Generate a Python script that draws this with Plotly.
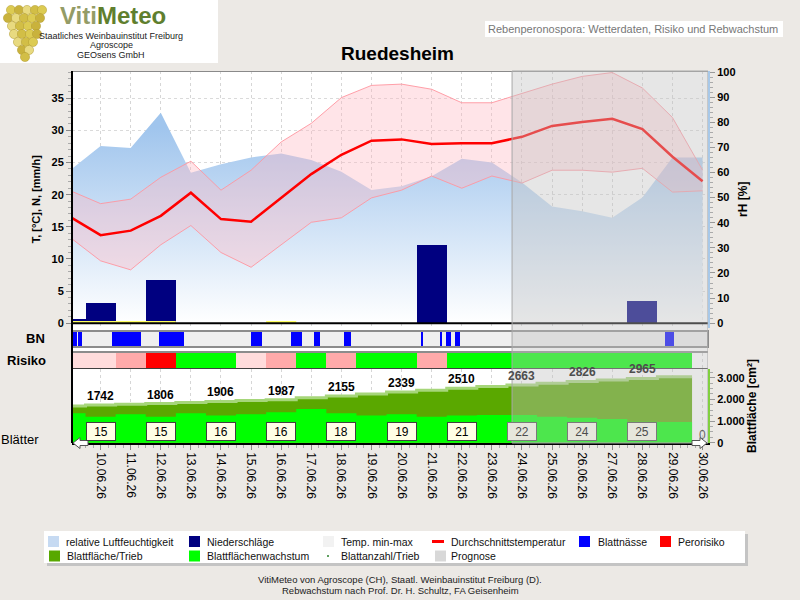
import plotly.graph_objects as go

W, H = 800, 600
def PX(x): return x / W
def PY(y): return 1 - y / H

FONT = "Liberation Sans"

# ---------------- data ----------------
days = [9, 10, 11, 12, 13, 14, 15, 16, 17, 18, 19, 20, 21, 22, 23, 24, 25, 26, 27, 28, 29, 30]
tick_days = [10, 11, 12, 13, 14, 15, 16, 17, 18, 19, 20, 21, 22, 23, 24, 25, 26, 27, 28, 29, 30]
tick_labels = ["10.06.26", "11.06.26", "12.06.26", "13.06.26", "14.06.26", "15.06.26", "16.06.26",
               "17.06.26", "18.06.26", "19.06.26", "20.06.26", "21.06.26", "22.06.26", "23.06.26",
               "24.06.26", "25.06.26", "26.06.26", "27.06.26", "28.06.26", "29.06.26", "30.06.26"]
rel_humidity = [61, 70.5, 69.7, 83.8, 59.9, 63.3, 66, 67.6, 65, 60.3, 53, 54.5, 58.5, 65.5, 64, 56,
                46.5, 44.6, 42, 50, 66, 66]
temp_mean = [16.5, 13.7, 14.4, 16.7, 20.3, 16.2, 15.8, 19.5, 23.2, 26.2, 28.4, 28.6, 27.9, 28.0, 28.0,
             29.0, 30.7, 31.3, 31.8, 30.2, 25.9, 22.1]
temp_max = [20.6, 18.6, 19.3, 22.7, 25.2, 20.7, 23.8, 28.2, 31.1, 35.1, 37.0, 37.2, 36.4, 34.3, 34.3,
            35.8, 37.2, 38.4, 39.0, 36.6, 32.0, 23.8]
temp_min = [13.3, 9.7, 8.3, 12.2, 15.2, 11.0, 8.7, 12.2, 15.7, 16.4, 19.5, 20.7, 22.9, 21.0, 22.9,
            21.8, 23.8, 23.8, 23.5, 24.1, 20.4, 20.6]
precipitation = [0.6, 3.1, 0, 6.7, 0, 0, 0, 0, 0, 0, 0, 0, 12.2, 0, 0, 0, 0, 0, 0, 3.4, 0, 0]

wet_mark_start = [8.5, 15.5]
wet_mark_end = [12.5, 16.5]

bn_start = [9.08, 9.25, 10.37, 11.94, 15.00, 16.33, 17.09, 18.07, 20.65, 21.28, 21.48, 21.79, 28.76]
bn_end = [9.21, 9.39, 11.34, 12.76, 15.37, 16.69, 17.29, 18.31, 20.69, 21.33, 21.64, 21.94, 29.04]

stage_days = [9, 10, 11, 12, 13, 14, 15, 16, 17, 18, 19, 20, 21, 22, 23, 24, 25, 26, 27, 28, 29]
risk_level = ["gering", "gering", "mittel", "hoch", "kein", "kein", "gering", "mittel", "kein",
              "mittel", "kein", "kein", "mittel", "kein", "kein", "kein", "kein", "kein", "kein",
              "kein", "kein"]
risk_colors = {"kein": "#00FF00", "gering": "#FFDCDC", "mittel": "#FFAAAA", "hoch": "#FF0000"}

leaf_area = [1690, 1742, 1770, 1806, 1855, 1906, 1945, 1987, 2075, 2155, 2250, 2339, 2425, 2510,
             2590, 2663, 2745, 2826, 2895, 2965, 3040]
leaf_growth = [1357, 1200, 1310, 1200, 1357, 1250, 1310, 1400, 1555, 1357, 1250, 1310, 1200, 1250,
               1280, 1280, 1200, 1150, 1094, 969, 955]
count_days = [10, 12, 14, 16, 18, 20, 22, 24, 26, 28]
leaf_count = [15, 15, 16, 16, 18, 19, 21, 22, 24, 25]
end_count_day = 30
end_count = 0

PROGNOSIS_START = 23.67
DATA_END = 29.65
X_RANGE = [9.05, 30.18]

# ---------------- derived ----------------
edges = [d - 0.5 for d in stage_days] + [DATA_END]
seg_center = [(edges[i] + edges[i + 1]) / 2 for i in range(len(stage_days))]
seg_width = [edges[i + 1] - edges[i] for i in range(len(stage_days))]

fig = go.Figure()

# relative humidity (base axis y, right)
fig.add_trace(go.Scatter(
    x=days, y=rel_humidity, yaxis="y", mode="lines", name="relative Luftfeuchtigkeit",
    line=dict(width=0, color="rgba(0,0,0,0)"), fill="tozeroy",
    fillgradient=dict(type="vertical", start=0, stop=78,
                      colorscale=[[0, "rgb(255,255,255)"], [1, "rgb(160,197,237)"]]),
    showlegend=False, hoverinfo="skip"))

# yellow markers at zero
wx, wy = [], []
for s, e in zip(wet_mark_start, wet_mark_end):
    wx += [s, e, None]
    wy += [0.2, 0.2, None]
fig.add_trace(go.Scatter(x=wx, y=wy, yaxis="y2", mode="lines",
                         line=dict(color="#FFFF60", width=2), showlegend=False, hoverinfo="skip"))

# temperature band
fig.add_trace(go.Scatter(x=days, y=temp_max, yaxis="y2", mode="lines", name="Temp. max",
                         line=dict(color="rgba(255,150,160,0.9)", width=1), showlegend=False))
fig.add_trace(go.Scatter(x=days, y=temp_min, yaxis="y2", mode="lines", name="Temp. min-max",
                         line=dict(color="rgba(255,150,160,0.9)", width=1), fill="tonexty",
                         fillcolor="rgba(255,185,195,0.38)", showlegend=False))
fig.add_trace(go.Scatter(x=days, y=temp_mean, yaxis="y2", mode="lines", name="Durchschnittstemperatur",
                         line=dict(color="#FF0000", width=2.5), showlegend=False))
# precipitation
fig.add_trace(go.Bar(x=days, y=precipitation, yaxis="y2", width=[1] * len(days),
                     marker=dict(color="#000080", line=dict(width=0)), name="Niederschläge",
                     showlegend=False))

# leaf wetness strip background + wet periods
fig.add_trace(go.Bar(x=[(X_RANGE[0] + X_RANGE[1]) / 2], y=[1.16], base=-0.08,
                     width=[X_RANGE[1] - X_RANGE[0]], yaxis="y3",
                     marker=dict(color="#EFEFEF", line=dict(width=0)), showlegend=False,
                     hoverinfo="skip"))
fig.add_trace(go.Bar(x=[(s + e) / 2 for s, e in zip(bn_start, bn_end)],
                     y=[1] * len(bn_start), width=[e - s for s, e in zip(bn_start, bn_end)],
                     base=0, yaxis="y3", marker=dict(color="#0000FF", line=dict(width=0)),
                     name="Blattnässe", showlegend=False))

# risk
fig.add_trace(go.Bar(x=seg_center, y=[1] * len(seg_center), width=seg_width, base=0, yaxis="y4",
                     marker=dict(color=[risk_colors[r] for r in risk_level], line=dict(width=0)),
                     name="Perorisiko", showlegend=False))

# leaf area (step) and growth
fig.add_trace(go.Scatter(x=edges, y=leaf_area + [leaf_area[-1]], yaxis="y5", mode="lines",
                         line=dict(shape="hv", color="#A6D67A", width=3), fill="tozeroy",
                         fillcolor="#5AA800", name="Blattfläche/Trieb", showlegend=False))
fig.add_trace(go.Scatter(x=edges, y=leaf_growth + [leaf_growth[-1]], yaxis="y5", mode="lines",
                         line=dict(shape="hv", width=0, color="rgba(0,0,0,0)"), fill="tozeroy",
                         fillcolor="#00FF00", name="Blattflächenwachstum", showlegend=False))

# ---------------- shapes ----------------
shapes = []
def rect(x0, y0, x1, y1, fill, line=None, lw=0, layer="below"):
    shapes.append(dict(type="rect", xref="paper", yref="paper", x0=PX(x0), x1=PX(x1),
                       y0=PY(y1), y1=PY(y0), fillcolor=fill,
                       line=dict(color=line or fill, width=lw), layer=layer))
def hline(x0, x1, y, color, w, layer="above"):
    shapes.append(dict(type="line", xref="paper", yref="paper", x0=PX(x0), x1=PX(x1),
                       y0=PY(y), y1=PY(y), line=dict(color=color, width=w), layer=layer))
def vline(x, y0, y1, color, w, layer="above"):
    shapes.append(dict(type="line", xref="paper", yref="paper", x0=PX(x), x1=PX(x),
                       y0=PY(y0), y1=PY(y1), line=dict(color=color, width=w), layer=layer))
def poly(points, fill, line, lw=1):
    p = "M " + " L ".join(f"{PX(x)},{PY(y)}" for x, y in points) + " Z"
    shapes.append(dict(type="path", xref="paper", yref="paper", path=p, fillcolor=fill,
                       line=dict(color=line, width=lw), layer="above"))

# plot background
rect(72, 71, 708, 443, "white")
# logo box
rect(0, 0, 218, 63, "white")
# grapes
grapes = [(10, [11, 19, 27, 35, 42]), (18, [8, 16, 24, 32, 40]), (26, [12, 20, 28, 36]),
          (34, [14, 22, 30, 37]), (42, [18, 26, 33]), (50, [22, 29]), (57, [25])]
gcols = ["#DCCB52", "#C9B23C", "#E8DA80", "#D2BE46"]
k = 0
for gy, xs in grapes:
    for gx in xs:
        shapes.append(dict(type="circle", xref="paper", yref="paper", x0=PX(gx - 4.6), x1=PX(gx + 4.6),
                           y0=PY(gy + 4.6), y1=PY(gy - 4.6), fillcolor=gcols[k % 4],
                           line=dict(color="#B09A30", width=0.5), layer="above"))
        k += 1
# top right box
rect(485, 21, 783, 37, "white")
# BN strip border
shapes.append(dict(type="rect", xref="x domain", yref="y3 domain", x0=0, x1=1, y0=0, y1=1,
                   fillcolor="rgba(0,0,0,0)", line=dict(color="#8C8C8C", width=2), layer="above"))
# borders
hline(72, 708, 71.5, "#8A8A8A", 1)
hline(72, 708, 352, "#8C8C8C", 2)
hline(72, 708, 368.5, "#404040", 1)
shapes.append(dict(type="line", xref="x domain", yref="y2", x0=0, x1=1, y0=0, y1=0,
                   line=dict(color="black", width=2), layer="above"))
# prognosis overlay
shapes.append(dict(type="rect", xref="x", yref="paper", x0=PROGNOSIS_START, x1=X_RANGE[1],
                   y0=PY(443), y1=PY(71), fillcolor="rgba(192,192,192,0.4)",
                   line=dict(color="#A8A8A8", width=1), layer="above"))
vline(72, 71, 443, "black", 2)
# navigation arrows
poly([(73, 443), (80, 437.5), (80, 440.5), (88, 440.5), (88, 445.5), (80, 445.5), (80, 448.5)],
     "white", "#555555")
poly([(707, 443), (700, 437.5), (700, 440.5), (692, 440.5), (692, 445.5), (700, 445.5), (700, 448.5)],
     "white", "#555555")
# legend box
rect(47, 534, 748, 566, "#C4C4C4")
rect(44, 531, 745, 563, "white")

# ---------------- annotations ----------------
ann = []
def text(x, y, s, size=11, color="black", bold=False, xanchor="center", yanchor="middle", **kw):
    ann.append(dict(xref="paper", yref="paper", x=PX(x), y=PY(y),
                    text=f"<b>{s}</b>" if bold else s, showarrow=False,
                    font=dict(family=FONT, size=size, color=color),
                    xanchor=xanchor, yanchor=yanchor, **kw))

text(113, 0.5, '<span style="color:#949C66">Viti</span><span style="color:#5F7F2E">Meteo</span>',
     size=24, bold=True, borderpad=0, yanchor="top")
text(111, 36, "Staatliches Weinbauinstitut Freiburg", size=9, color="#222222", borderpad=0)
text(111, 45.5, "Agroscope", size=9, color="#222222", borderpad=0)
text(111, 55, "GEOsens GmbH", size=9, color="#222222", borderpad=0)
text(633, 29, "Rebenperonospora: Wetterdaten, Risiko und Rebwachstum", size=11, color="#777777")
text(397, 53, "Ruedesheim", size=19, bold=True)
text(35.5, 338, "BN", size=13, bold=True)
text(26, 360.5, "Risiko", size=13, bold=True)
text(20, 440, "Blätter", size=13)

text(400, 579, "VitiMeteo von Agroscope (CH), Staatl. Weinbauinstitut Freiburg (D).", size=9.5,
     color="#222222")
text(400, 590.5, "Rebwachstum nach Prof. Dr. H. Schultz, FA Geisenheim", size=9.5, color="#222222")

# legend entries
leg = [
    (48, 541.5, "sq", "#C6DAF2", "relative Luftfeuchtigkeit", 64),
    (189, 541.5, "sq", "#000080", "Niederschläge", 205),
    (323, 541.5, "sq", "#F2F2F2", "Temp. min-max", 339),
    (432, 541.5, "dash", "#FF0000", "Durchschnittstemperatur", 449),
    (579, 541.5, "sq", "#0000FF", "Blattnässe", 596),
    (660, 541.5, "sq", "#FF0000", "Perorisiko", 676),
    (49, 556, "sq", "#58A800", "Blattfläche/Trieb", 65),
    (189, 556, "sq", "#00FF00", "Blattflächenwachstum", 205),
    (323, 556, "dot", "#60A060", "Blattanzahl/Trieb", 339),
    (435, 556, "sq", "#D8D8D8", "Prognose", 449),
]
for ix, iy, kind, col, label, tx in leg:
    if kind == "sq":
        rect(ix, iy - 5.5, ix + 11, iy + 5.5, col, layer="above")
    elif kind == "dash":
        hline(ix, ix + 12, iy, col, 3)
    else:
        rect(ix + 4, iy - 1, ix + 6, iy + 1, col, layer="above")
    text(tx, iy, label, size=10.5, color="#111111", xanchor="left")

# leaf area labels and leaf count boxes
for d, n in zip(count_days, leaf_count):
    area = leaf_area[stage_days.index(d)]
    prog = d > PROGNOSIS_START
    ann.append(dict(xref="x", yref="y5", x=d, y=area, text=f"<b>{area}</b>", showarrow=False,
                    yanchor="bottom", yshift=0,
                    font=dict(family=FONT, size=12, color="#4D4D4D" if prog else "black")))
    ann.append(dict(xref="x", yref="y5", x=d, y=0, text=str(n), showarrow=False, yanchor="bottom",
                    yshift=2, width=26, height=15, borderpad=1, borderwidth=1,
                    bgcolor="#E6E6DC" if prog else "#FFFFE6",
                    bordercolor="#7A7A7A" if prog else "#404040",
                    font=dict(family=FONT, size=12, color="#4D4D4D" if prog else "black")))
ann.append(dict(xref="x", yref="y5", x=end_count_day, y=0, text=str(end_count), showarrow=False,
                yanchor="bottom", yshift=-1, font=dict(family=FONT, size=12, color="#666666")))

# ---------------- layout ----------------
tickfont_b = dict(family=FONT, size=11, color="black", weight="bold")
fig.update_layout(
    width=W, height=H, autosize=False,
    margin=dict(l=0, r=0, t=0, b=0),
    paper_bgcolor="#ECE9E5", plot_bgcolor="rgba(0,0,0,0)",
    font=dict(family=FONT, color="black"),
    showlegend=False, bargap=0, barmode="overlay",
    shapes=shapes, annotations=ann,
    xaxis=dict(domain=[PX(72), PX(708)], range=X_RANGE, anchor="y5",
               tickmode="array", tickvals=tick_days, ticktext=tick_labels, tickangle=90,
               ticks="outside", ticklen=5, tickcolor="#888888",
               tickfont=dict(family=FONT, size=12, color="black"),
               showline=True, linecolor="black", linewidth=1.5,
               showgrid=True, gridcolor="#D6D6D6", griddash="dot", gridwidth=1,
               minor=dict(tickmode="linear", tick0=9, dtick=0.25, ticks="outside", ticklen=3,
                          tickcolor="#AAAAAA", showgrid=False),
               zeroline=False, automargin=False, fixedrange=True),
    yaxis=dict(domain=[PY(327.5), PY(71)], range=[-1.71, 100.4], side="right", anchor="x",
               tickmode="array", tickvals=list(range(0, 101, 10)),
               ticks="outside", ticklen=5, tickcolor="#999999", tickfont=tickfont_b,
               minor=dict(tickmode="linear", tick0=0, dtick=2, ticks="outside", ticklen=3,
                          tickcolor="#AAAAAA"),
               showline=True, linecolor="#A8C8E8", linewidth=2, showgrid=False, zeroline=False,
               title=dict(text="<b>rH [%]</b>", font=dict(family=FONT, size=12), standoff=4),
               automargin=False, fixedrange=True),
    yaxis2=dict(overlaying="y", side="left", anchor="x", range=[-0.67, 39.24],
                tickmode="array", tickvals=list(range(0, 36, 5)),
                ticks="outside", ticklen=5, tickcolor="#888888", tickfont=tickfont_b,
                minor=dict(tickmode="linear", tick0=0, dtick=1, ticks="outside", ticklen=3,
                           tickcolor="#AAAAAA"),
                showline=False, showgrid=True, gridcolor="#DADADA", griddash="dot",
                zeroline=False,
                title=dict(text="<b>T, [°C], N, [mm/h]</b>", font=dict(family=FONT, size=11),
                           standoff=8),
                automargin=False, fixedrange=True),
    yaxis3=dict(domain=[PY(347), PY(331)], range=[-0.08, 1.08], visible=False, fixedrange=True),
    yaxis4=dict(domain=[PY(368), PY(353)], range=[0, 1], visible=False, fixedrange=True),
    yaxis5=dict(domain=[PY(443), PY(369)], range=[-14, 3401], side="right", anchor="x",
                tickmode="array", tickvals=[0, 1000, 2000, 3000],
                ticktext=["0", "1.000", "2.000", "3.000"],
                ticks="outside", ticklen=5, tickcolor="#999999", tickfont=tickfont_b,
                minor=dict(tickmode="linear", tick0=0, dtick=250, ticks="outside", ticklen=3,
                           tickcolor="#AAAAAA"),
                showline=True, linecolor="#80D040", linewidth=2, showgrid=False, zeroline=False,
                title=dict(text="<b>Blattfläche [cm²]</b>", font=dict(family=FONT, size=12),
                           standoff=4),
                automargin=False, fixedrange=True),
)

fig.write_html("out.html")
